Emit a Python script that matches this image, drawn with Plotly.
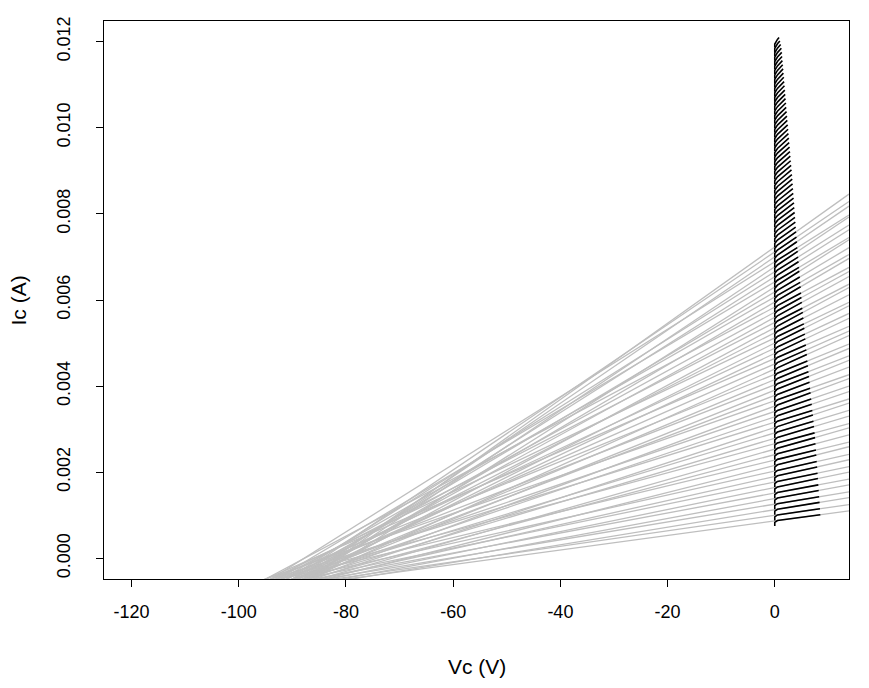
import plotly.graph_objects as go

# Collector current at Vc = 0 for each sweep (mA)
ic0_mA = [0.870, 1.000, 1.130, 1.259, 1.388, 1.517, 1.646, 1.774, 1.902, 2.029,
          2.157, 2.284, 2.410, 2.537, 2.663, 2.789, 2.914, 3.039, 3.164, 3.289,
          3.413, 3.537, 3.661, 3.784, 3.907, 4.030, 4.153, 4.275, 4.397, 4.518,
          4.640, 4.761, 4.881, 5.002, 5.122, 5.242, 5.361, 5.480, 5.599, 5.718,
          5.836, 5.954, 6.072, 6.189, 6.306, 6.423, 6.540, 6.656, 6.772, 6.887,
          7.003, 7.118, 7.232, 7.347, 7.461, 7.575, 7.688, 7.801, 7.914, 8.027,
          8.139, 8.251, 8.363, 8.474, 8.585, 8.696, 8.806, 8.917, 9.027, 9.136,
          9.246, 9.355, 9.463, 9.572, 9.680, 9.788, 9.895, 10.002, 10.109, 10.216,
          10.322, 10.428, 10.534, 10.639, 10.744, 10.849, 10.954, 11.058, 11.162, 11.265,
          11.369, 11.471, 11.574, 11.677, 11.779, 11.880, 11.982]

# Output conductance (slope) of each sweep (uA/V)
slope_uA_per_V = [16.9, 18.0, 20.4, 20.7, 23.1, 23.2, 25.6, 25.6, 28.0, 27.9,
                  31.4, 30.0, 33.2, 35.5, 33.8, 37.1, 37.7, 40.9, 38.8, 42.3,
                  42.3, 46.2, 43.6, 47.4, 49.9, 48.5, 52.1, 50.6, 56.1, 54.9,
                  53.9, 58.9, 58.3, 62.3, 59.6, 63.6, 67.1, 64.1, 68.3, 68.1,
                  66.5, 73.1, 71.2, 74.1, 78.9, 74.2, 78.9, 78.4, 83.4, 78.4,
                  85.0, 84.4, 88.6, 89.0, 90.2, 91.5, 92.8, 94.1, 95.4, 96.7,
                  97.9, 99.2, 100.5, 101.8, 103.0, 104.3, 105.5, 106.8, 108.0, 109.3,
                  110.5, 111.8, 113.0, 114.2, 115.5, 116.7, 117.9, 119.1, 120.3, 121.6,
                  122.8, 124.0, 125.2, 126.4, 127.6, 128.7, 129.9, 131.1, 132.3, 133.5,
                  134.6, 135.8, 137.0, 138.1, 139.3, 140.5, 141.6]

# Maximum collector voltage reached by each sweep (V)
vmax_V = [8.50, 8.43, 8.36, 8.28, 8.20, 8.13, 8.05, 7.98, 7.91, 7.83,
          7.75, 7.68, 7.60, 7.52, 7.43, 7.32, 7.22, 7.11, 7.01, 6.90,
          6.80, 6.69, 6.59, 6.49, 6.38, 6.28, 6.18, 6.08, 5.98, 5.89,
          5.80, 5.70, 5.61, 5.52, 5.42, 5.33, 5.24, 5.14, 5.05, 4.97,
          4.89, 4.82, 4.74, 4.66, 4.58, 4.51, 4.43, 4.35, 4.28, 4.20,
          4.12, 4.05, 3.97, 3.90, 3.84, 3.77, 3.71, 3.64, 3.58, 3.51,
          3.45, 3.38, 3.32, 3.26, 3.19, 3.12, 3.05, 2.97, 2.90, 2.83,
          2.76, 2.69, 2.62, 2.55, 2.48, 2.41, 2.34, 2.27, 2.20, 2.13,
          2.07, 2.00, 1.94, 1.87, 1.81, 1.74, 1.68, 1.61, 1.55, 1.48,
          1.42, 1.36, 1.30, 1.23, 1.10, 0.95, 0.80]

# Number of sweeps that have an Early-voltage extrapolation line
n_fitted = 53
sat_drop_mA = 0.12      # current drop in saturation at Vc = 0
sat_knee_V = 0.5

x_range = [-125.15, 13.85]
y_range = [-0.00048, 0.01248]

# Gray extrapolation lines (abline style, clipped by the axes)
gx, gy = [], []
for i in range(n_fitted):
    a = ic0_mA[i] / 1000.0
    b = slope_uA_per_V[i] / 1e6
    gx += [x_range[0], x_range[1], None]
    gy += [a + b * x_range[0], a + b * x_range[1], None]

# Black measured sweeps
bx, by = [], []
for i in range(len(ic0_mA)):
    a = ic0_mA[i] / 1000.0
    b = slope_uA_per_V[i] / 1e6
    bx += [0.0, 0.0, sat_knee_V, vmax_V[i], None]
    by += [a - sat_drop_mA / 1000.0, a - 0.3 * sat_drop_mA / 1000.0,
           a + b * sat_knee_V, a + b * vmax_V[i], None]

fig = go.Figure()
fig.add_trace(go.Scatter(x=gx, y=gy, mode="lines",
                         line=dict(color="#BEBEBE", width=1.3),
                         hoverinfo="skip", showlegend=False))
fig.add_trace(go.Scatter(x=bx, y=by, mode="lines",
                         line=dict(color="black", width=1.6),
                         hoverinfo="skip", showlegend=False))

family = "Liberation Sans, Arial, Helvetica, sans-serif"
font = dict(family=family, size=18, color="black")
title_font = dict(family=family, size=21, color="black")

fig.update_layout(
    width=861, height=680,
    margin=dict(l=96, r=20, t=9, b=109),
    paper_bgcolor="white", plot_bgcolor="white",
    font=font,
    showlegend=False,
    xaxis=dict(range=x_range, tickvals=[-120, -100, -80, -60, -40, -20, 0],
               ticktext=["-120", "-100", "-80", "-60", "-40", "-20", "0"],
               ticks="outside", ticklen=7, tickwidth=1, tickcolor="black",
               showline=True, linecolor="black", linewidth=1, mirror=True,
               showgrid=False, zeroline=False, ticklabelstandoff=9),
    yaxis=dict(range=y_range, tickvals=[0, 0.002, 0.004, 0.006, 0.008, 0.010, 0.012],
               ticktext=["0.000", "0.002", "0.004", "0.006", "0.008", "0.010", "0.012"],
               tickangle=-90,
               ticks="outside", ticklen=7, tickwidth=1, tickcolor="black",
               showline=True, linecolor="black", linewidth=1, mirror=True,
               showgrid=False, zeroline=False, ticklabelstandoff=19),
    annotations=[
        dict(text="Vc (V)", xref="paper", yref="paper", x=0.5, y=-0.1566,
             xanchor="center", yanchor="middle", showarrow=False, font=title_font),
        dict(text="Ic (A)", xref="paper", yref="paper", x=-0.1148, y=0.5,
             xanchor="center", yanchor="middle", textangle=-90, showarrow=False, font=title_font),
    ],
)

fig.write_html("out.html")
